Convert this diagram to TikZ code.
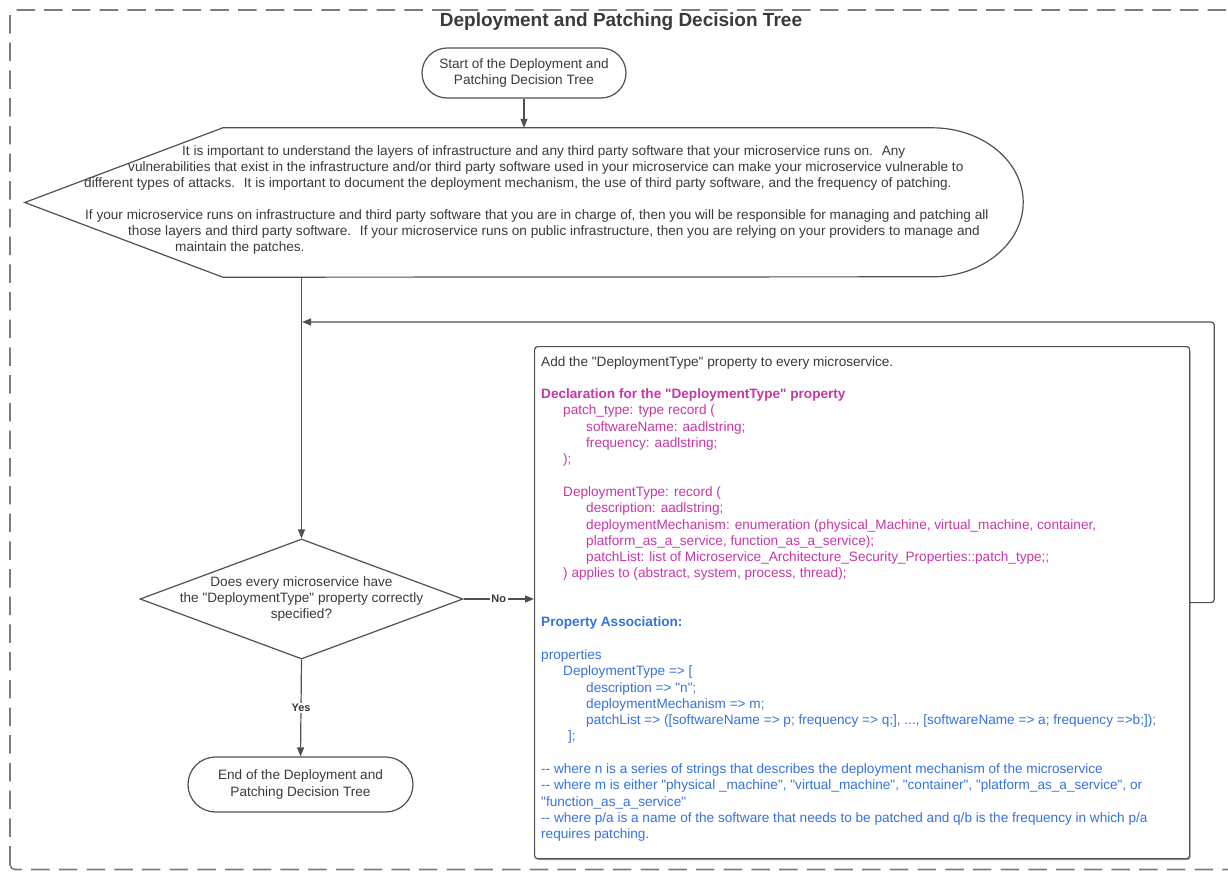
\documentclass[tikz,border=0pt]{standalone}
\usepackage{fontspec}
\setmainfont{Liberation Sans}
% plain family without TeX ligatures, so " and -- stay straight quotes and hyphens
\newfontfamily\lsans{Liberation Sans}
\usetikzlibrary{shapes.geometric,arrows.meta,calc}

\definecolor{ink}{RGB}{58,58,58}
\definecolor{edge}{RGB}{80,80,80}
\definecolor{decl}{RGB}{196,56,168}
\definecolor{assoc}{RGB}{55,115,215}

% two plain hyphens, kept apart so they are not joined into a dash
\newcommand{\twohyph}{\mbox{-}\mbox{-}}
\newcommand{\declline}[2][0pt]{\hspace*{#1}\textcolor{decl}{#2}}
\newcommand{\assocline}[2][0pt]{\hspace*{#1}\textcolor{assoc}{#2}}

\tikzset{
  body/.style={font=\lsans\fontsize{13.6}{16.3}\selectfont, text=ink},
  terminal/.style={draw=edge, line width=1.2pt, body, align=center, inner sep=0pt},
  flow/.style={draw=edge, line width=1.2pt, -{Triangle[length=9pt,width=7pt]}},
  tag/.style={font=\lsans\bfseries\fontsize{11}{13}\selectfont, text=ink, fill=white, inner sep=1.5pt},
  wrapline/.style={body, anchor=west, inner sep=0pt, text height=10pt, text depth=3pt},
}

\begin{document}
\begin{tikzpicture}[x=1pt,y=-1pt]
\useasboundingbox (0,0) rectangle (1228,871);

% dashed outer frame
\begin{scope}
  \clip (0,0) rectangle (1228,871);
  \draw[edge!75, line width=1.6pt, dash pattern=on 18.5pt off 9.2pt, rounded corners=5pt]
    (10,869.5) -- (10,10) -- (1240,10) -- (1240,869.5) -- cycle;
\end{scope}

\node[font=\lsans\bfseries\fontsize{19}{22}\selectfont, text=ink] (title) at (621,22)
  {Deployment and Patching Decision Tree};

% start terminal
\node[terminal, rounded corners=25pt, minimum width=204pt, minimum height=50pt] (start) at (524,73)
  {Start of the Deployment and\\Patching Decision Tree};

% display-shaped explanation
\node[minimum width=998pt, minimum height=149pt, inner sep=0pt] (disp) at (524,202.5) {};
\draw[edge, line width=1.2pt]
  (disp.west) -- ($(disp.north west)+(198,0)$) -- ($(disp.north east)-(91,0)$)
  arc[start angle=-90, end angle=90, x radius=91, y radius=74.5]
  -- ($(disp.south west)+(198,0)$) -- cycle;

\node[wrapline] (p1) at (182,152) {It is important to understand the layers of infrastructure and any third party software that your microservice runs on.~ Any};
\node[wrapline] (p2) at (128,168) {vulnerabilities that exist in the infrastructure and/or third party software used in your microservice can make your microservice vulnerable to};
\node[wrapline] (p3) at (84,184) {different types of attacks.~ It is important to document the deployment mechanism, the use of third party software, and the frequency of patching.};
\node[wrapline] (p4) at (85,216) {If your microservice runs on infrastructure and third party software that you are in charge of, then you will be responsible for managing and patching all};
\node[wrapline] (p5) at (128,232) {those layers and third party software.~ If your microservice runs on public infrastructure, then you are relying on your providers to manage and};
\node[wrapline] (p6) at (175,248) {maintain the patches.};

% decision
\node[diamond, draw=edge, line width=1.2pt, minimum width=323pt, minimum height=120pt, inner sep=0pt] (dec) at (301.5,599) {};
\node[body, align=center] (dectext) at (dec.center)
  {Does every microservice have\\the "DeploymentType" property correctly\\specified?};

% end terminal
\node[terminal, rounded corners=27.5pt, minimum width=225pt, minimum height=55pt] (finish) at (300.5,784.5)
  {End of the Deployment and\\Patching Decision Tree};

% property specification box
\fill[black!40, rounded corners=3pt] (535.5,348.5) rectangle (1190.5,860);
\node[draw=edge, fill=white, line width=1.2pt, rounded corners=3pt, minimum width=655pt, minimum height=512pt,
      inner sep=0pt, anchor=north west] (spec) at (534,346) {};
\node[body, align=left, anchor=north west, inner sep=0pt] (spectext) at (541,356) {%
  Add the "DeploymentType" property to every microservice.\\
  \mbox{}\\
  \declline{\bfseries Declaration for the "DeploymentType" property}\\
  \declline[22pt]{patch\_type: type record (}\\
  \declline[45pt]{softwareName: aadlstring;}\\
  \declline[45pt]{frequency: aadlstring;}\\
  \declline[22pt]{);}\\
  \mbox{}\\
  \declline[22pt]{DeploymentType: record (}\\
  \declline[45pt]{description: aadlstring;}\\
  \declline[45pt]{deploymentMechanism: enumeration (physical\_Machine, virtual\_machine, container,}\\
  \declline[45pt]{platform\_as\_a\_service, function\_as\_a\_service);}\\
  \declline[45pt]{patchList: list of Microservice\_Architecture\_Security\_Properties::patch\_type;;}\\
  \declline[22pt]{) applies to (abstract, system, process, thread);}\\
  \mbox{}\\
  \mbox{}\\
  \assocline{\bfseries Property Association:}\\
  \mbox{}\\
  \assocline{properties}\\
  \assocline[22pt]{DeploymentType => [}\\
  \assocline[45pt]{description => "n";}\\
  \assocline[45pt]{deploymentMechanism => m;}\\
  \assocline[45pt]{patchList => ([softwareName => p; frequency => q;], ..., [softwareName => a; frequency =>b;]);}\\
  \assocline[27pt]{];}\\
  \mbox{}\\
  \assocline{\twohyph{} where n is a series of strings that describes the deployment mechanism of the microservice}\\
  \assocline{\twohyph{} where m is either "physical \_machine", "virtual\_machine", "container", "platform\_as\_a\_service", or}\\
  \assocline{"function\_as\_a\_service"}\\
  \assocline{\twohyph{} where p/a is a name of the software that needs to be patched and q/b is the frequency in which p/a}\\
  \assocline{requires patching.}%
};

% connectors
\coordinate (join) at (dec.north |- 0,322);
\draw[flow] (start) -- (disp.north);
\draw[flow] (dec.north |- disp.south) -- (dec.north);
\draw[flow] (dec.east) -- node[tag] (nolabel) {No} (dec.east -| spec.west);
\draw[flow] (dec.south) -- node[tag] (yeslabel) {Yes} (finish.north);
\draw[flow, rounded corners=3pt, shorten >=0.6pt] (spec.east) -- ++(24,0) |- (join);

\end{tikzpicture}
\end{document}
